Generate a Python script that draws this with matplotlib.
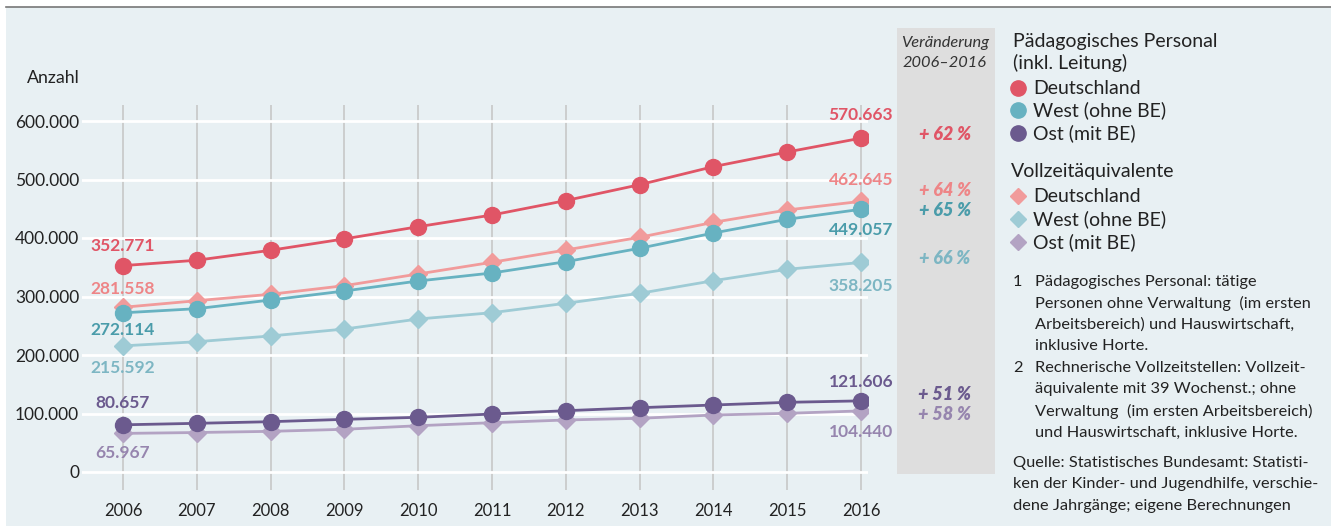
import matplotlib.pyplot as plt
from matplotlib.patches import Rectangle
from matplotlib.lines import Line2D

plt.rcParams['font.family'] = ['Lato', 'DejaVu Sans']

years = [2006, 2007, 2008, 2009, 2010, 2011, 2012, 2013, 2014, 2015, 2016]

# Pädagogisches Personal (Personen)
pers_de = [352771, 362000, 379000, 398500, 419300, 439300, 464000, 491100, 522000, 547000, 570663]
pers_west = [272114, 279200, 294000, 309400, 326500, 340200, 359500, 382400, 408500, 432000, 449057]
pers_ost = [80657, 83200, 86000, 90000, 93500, 99100, 104800, 109900, 114500, 119100, 121606]

# Vollzeitäquivalente
vza_de = [281558, 292800, 303800, 318500, 338500, 358500, 379500, 401200, 426800, 447900, 462645]
vza_west = [215592, 222700, 232500, 244400, 261500, 272300, 288400, 305400, 327000, 346500, 358205]
vza_ost = [65967, 67500, 69500, 73000, 79100, 84300, 88900, 91800, 97400, 100300, 104440]

y_ticks = [0, 100000, 200000, 300000, 400000, 500000, 600000]
y_ticklabels = ['0', '100.000', '200.000', '300.000', '400.000', '500.000', '600.000']

changes = ['+ 62 %', '+ 64 %', '+ 65 %', '+ 66 %', '+ 51 %', '+ 58 %']

W, H = 1331, 526
fig = plt.figure(figsize=(W / 100, H / 100), dpi=100)
fig.patch.set_facecolor('white')


def fx(px):
    return px / W


def fy(py):
    return 1 - py / H


bg = '#e8f0f3'
fig.add_artist(Rectangle((fx(6), 0), fx(W - 6), fy(7), transform=fig.transFigure,
                         facecolor=bg, edgecolor='none', zorder=0))
fig.add_artist(Line2D([fx(6), 1], [fy(7), fy(7)], transform=fig.transFigure,
                      color='#777777', lw=1.2))
# grey band for the change column
fig.add_artist(Rectangle((fx(897), fy(474)), fx(98), fy(28) - fy(474), transform=fig.transFigure,
                         facecolor='#dedede', edgecolor='none', zorder=0))

ax = fig.add_axes([fx(82), fy(490), fx(868 - 82), fy(105) - fy(490)])
ax.set_facecolor('none')
px_year = (861 - 123) / 10
ax.set_xlim(2006 - (123 - 82) / px_year, 2016 + (868 - 861) / px_year)
px_val = 58.5 / 100000
ax.set_ylim(-(490 - 472) / px_val, (472 - 105) / px_val)
for s in ax.spines.values():
    s.set_visible(False)
ax.tick_params(length=0, labelsize=12.5, colors='#222222', pad=2)
ax.set_xticks(years)
ax.set_xticklabels([str(y) for y in years])
ax.tick_params(axis='x', pad=9, labelsize=12)
ax.set_yticks(y_ticks)
ax.set_yticklabels(y_ticklabels)
for y in y_ticks:
    ax.axhline(y, color='white', lw=2, zorder=1)
for x in years:
    ax.axvline(x, color='#c4c4c4', lw=1.1, zorder=0.5)

series = [
    (pers_de, 'o', '#e05566', '#e05566', 11.5, 3),
    (vza_de, 'D', '#f19b9b', '#ee8587', 9, 2),
    (pers_west, 'o', '#67b2c1', '#4a9caa', 11.5, 3),
    (vza_west, 'D', '#9ecbd5', '#7db6c3', 9, 2),
    (pers_ost, 'o', '#6b5a8e', '#6b5a8e', 11.5, 3),
    (vza_ost, 'D', '#b3a3c3', '#9685ae', 9, 2),
]
for vals, m, c, lc, ms, z in series:
    ax.plot(years, vals, color=c, lw=2, marker=m, markersize=ms, zorder=z)

# value labels (offset in px: positive = up)
first_off = [20, 18, -17, -22, 22, -20]
last_off = [23, 21, -21, -24, 19, -21]
for (vals, m, c, lc, ms, z), o1, o2 in zip(series, first_off, last_off):
    for x, v, o in ((years[0], vals[0], o1), (years[-1], vals[-1], o2)):
        ax.annotate(f'{v:,}'.replace(',', '.'), (x, v), xytext=(0, o * 0.72),
                    textcoords='offset points', ha='center', va='center',
                    fontsize=12.5, fontweight='bold', color=lc)

fig.text(fx(80), fy(78), 'Anzahl', ha='right', va='center', fontsize=12.8, color='#222222')

# change column
fig.text(fx(945), fy(43), 'Veränderung', ha='center', va='center', fontsize=11.8,
         style='italic', color='#333333')
fig.text(fx(945), fy(63), '2006–2016', ha='center', va='center', fontsize=11.8,
         style='italic', color='#333333')
chg_y = [135, 190, 211, 258, 395, 415]
chg_col = ['#e05566', '#ee8587', '#4a9caa', '#7db6c3', '#6b5a8e', '#9685ae']
for t, yy, c in zip(changes, chg_y, chg_col):
    fig.text(fx(945), fy(yy), t, ha='center', va='center', fontsize=13, fontweight='heavy',
             style='italic', color=c)

# legend
txt = '#222222'
lfs = 14
fig.text(fx(1013), fy(42), 'Pädagogisches Personal', ha='left', va='center', fontsize=lfs, color=txt)
fig.text(fx(1013), fy(63), '(inkl. Leitung)', ha='left', va='center', fontsize=lfs, color=txt)
leg_names = ['Deutschland', 'West (ohne BE)', 'Ost (mit BE)']
for name, yy, c in zip(leg_names, [88, 110, 133], ['#e05566', '#67b2c1', '#6b5a8e']):
    fig.add_artist(Line2D([fx(1018)], [fy(yy)], transform=fig.transFigure, marker='o',
                          markersize=11, color=c, lw=0))
    fig.text(fx(1033), fy(yy), name, ha='left', va='center', fontsize=lfs, color=txt)
fig.text(fx(1011), fy(172), 'Vollzeitäquivalente', ha='left', va='center', fontsize=lfs, color=txt)
for name, yy, c in zip(leg_names, [196, 219, 242], ['#f19b9b', '#9ecbd5', '#b3a3c3']):
    fig.add_artist(Line2D([fx(1018)], [fy(yy)], transform=fig.transFigure, marker='D',
                          markersize=8.5, color=c, lw=0))
    fig.text(fx(1033), fy(yy), name, ha='left', va='center', fontsize=lfs, color=txt)

# footnotes
notes1 = ['Pädagogisches Personal: tätige', 'Personen ohne Verwaltung  (im ersten',
          'Arbeitsbereich) und Hauswirtschaft,', 'inklusive Horte.']
notes2 = ['Rechnerische Vollzeitstellen: Vollzeit-', 'äquivalente mit 39 Wochenst.; ohne',
          'Verwaltung  (im ersten Arbeitsbereich)', 'und Hauswirtschaft, inklusive Horte.']
source = ['Quelle: Statistisches Bundesamt: Statisti-', 'ken der Kinder- und Jugendhilfe, verschie-',
          'dene Jahrgänge; eigene Berechnungen']
fs = 11.8
fig.text(fx(1013), fy(282), '1', ha='left', va='center', fontsize=fs, color=txt)
for i, line in enumerate(notes1):
    fig.text(fx(1035), fy(282 + i * 21.5), line, ha='left', va='center', fontsize=fs, color=txt)
fig.text(fx(1013), fy(368), '2', ha='left', va='center', fontsize=fs, color=txt)
for i, line in enumerate(notes2):
    fig.text(fx(1035), fy(368 + i * 21.5), line, ha='left', va='center', fontsize=fs, color=txt)
for i, line in enumerate(source):
    fig.text(fx(1013), fy(463 + i * 21.3), line, ha='left', va='center', fontsize=fs, color=txt)

fig.savefig('out.png', dpi=100)
